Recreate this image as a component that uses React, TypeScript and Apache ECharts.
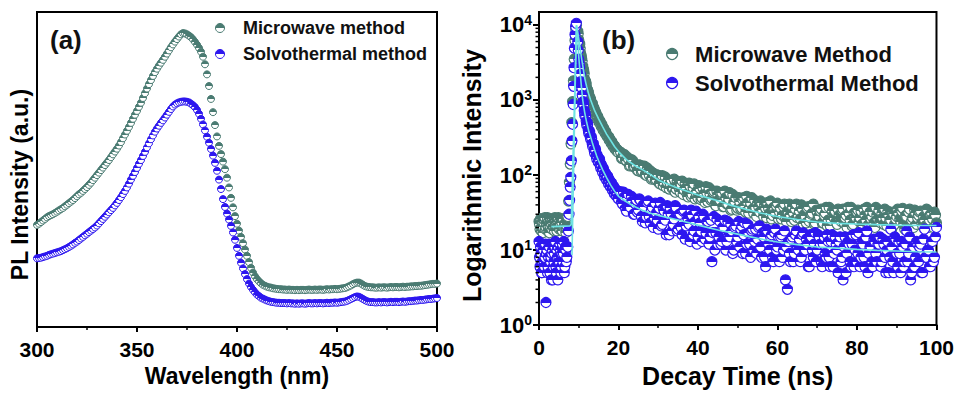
import React, { useEffect, useRef } from "react";
import * as echarts from "echarts";

// ---------- Panel (a): PL spectra (x: 300..500 nm, 1 nm step) ----------
const wlStart = 300;
const wlStep = 1;
const plMicrowave = [
  32.4, 32.8, 33.3, 33.8, 34.3, 34.8, 35.2, 35.5, 35.8, 36.2,
  36.6, 37.0, 37.4, 37.8, 38.3, 38.8, 39.3, 39.8, 40.3, 40.9,
  41.5, 42.1, 42.6, 43.2, 43.8, 44.4, 45.1, 45.8, 46.6, 47.4,
  48.2, 49.0, 49.8, 50.6, 51.4, 52.2, 53.0, 53.9, 54.8, 55.7,
  56.6, 57.6, 58.7, 59.9, 61.1, 62.3, 63.5, 64.8, 66.1, 67.4,
  68.6, 69.9, 71.2, 72.7, 74.2, 75.7, 77.1, 78.4, 79.7, 80.9,
  82.0, 83.0, 83.9, 84.8, 85.8, 86.8, 87.8, 88.8, 89.7, 90.6,
  91.4, 92.2, 92.9, 93.3, 93.2, 92.9, 92.5, 92.0, 91.3, 90.5,
  89.6, 88.6, 87.4, 85.8, 83.4, 80.2, 76.5, 72.4, 68.2, 64.1,
  60.5, 57.5, 54.9, 52.5, 50.1, 47.4, 44.3, 41.0, 38.0, 35.2,
  32.8, 30.6, 28.6, 26.6, 24.6, 22.6, 20.6, 18.8, 17.3, 16.1,
  15.2, 14.5, 13.9, 13.4, 13.1, 12.8, 12.6, 12.5, 12.3, 12.2,
  12.1, 12.0, 12.0, 11.9, 11.9, 11.8, 11.9, 11.8, 11.8, 11.7,
  11.8, 11.7, 11.8, 11.8, 11.7, 11.8, 11.9, 11.8, 11.8, 11.9,
  11.8, 11.9, 11.9, 11.8, 11.9, 12.0, 11.9, 12.0, 12.0, 12.1,
  12.0, 12.1, 12.2, 12.3, 12.4, 12.6, 12.9, 13.2, 13.6, 13.9,
  14.1, 14.1, 13.8, 13.4, 13.0, 12.8, 12.7, 12.6, 12.6, 12.5,
  12.5, 12.6, 12.5, 12.6, 12.6, 12.5, 12.6, 12.7, 12.6, 12.7,
  12.7, 12.6, 12.7, 12.8, 12.7, 12.8, 12.8, 12.9, 12.9, 13.0,
  13.0, 13.1, 13.1, 13.2, 13.3, 13.4, 13.5, 13.6, 13.7, 13.7,
  13.8,
];
const plSolvothermal = [
  21.8, 21.9, 22.0, 22.2, 22.4, 22.6, 22.9, 23.1, 23.3, 23.5,
  23.7, 23.9, 24.1, 24.4, 24.7, 25.0, 25.4, 25.8, 26.2, 26.7,
  27.1, 27.6, 28.1, 28.6, 29.1, 29.6, 30.1, 30.6, 31.1, 31.6,
  32.2, 32.9, 33.6, 34.3, 35.0, 35.7, 36.4, 37.1, 37.8, 38.6,
  39.4, 40.3, 41.2, 42.2, 43.2, 44.3, 45.5, 46.8, 48.0, 49.2,
  50.5, 51.8, 53.0, 54.3, 55.6, 57.0, 58.3, 59.6, 60.8, 62.0,
  63.0, 63.9, 64.8, 65.6, 66.5, 67.4, 68.3, 69.2, 70.0, 70.6,
  71.0, 71.3, 71.5, 71.6, 71.6, 71.5, 71.3, 70.9, 70.4, 69.8,
  68.9, 67.7, 66.1, 64.3, 62.4, 60.4, 58.5, 56.5, 54.4, 52.1,
  49.6, 46.8, 43.8, 40.6, 38.1, 36.0, 34.1, 32.1, 30.0, 27.7,
  25.1, 22.6, 20.4, 18.6, 16.8, 15.2, 13.8, 12.7, 11.8, 11.0,
  10.3, 9.8, 9.3, 9.0, 8.7, 8.4, 8.2, 8.0, 7.9, 7.8,
  7.7, 7.7, 7.6, 7.6, 7.6, 7.5, 7.6, 7.5, 7.5, 7.4,
  7.5, 7.4, 7.5, 7.5, 7.4, 7.5, 7.6, 7.5, 7.5, 7.6,
  7.5, 7.6, 7.6, 7.5, 7.6, 7.7, 7.6, 7.7, 7.7, 7.8,
  7.7, 7.8, 7.9, 8.0, 8.1, 8.3, 8.6, 8.9, 9.2, 9.5,
  9.7, 9.6, 9.3, 8.9, 8.5, 8.2, 8.0, 7.9, 7.9, 7.8,
  7.8, 7.9, 7.8, 7.9, 7.9, 7.8, 7.9, 8.0, 7.9, 8.0,
  8.0, 7.9, 8.0, 8.1, 8.0, 8.1, 8.2, 8.2, 8.3, 8.4,
  8.4, 8.5, 8.6, 8.6, 8.7, 8.8, 8.9, 8.9, 9.0, 9.1,
  9.2,
];

// ---------- Panel (b): decay curves ----------
// before the pulse: 0..7 ns (0.25 ns step) and 0.125..6.875 ns (interleaved)
const preStart = 0;
const preStart2 = 0.125;
const preStep = 0.25;
const mwPre = [24, 19, 26, 21, 17, 23, 27, 20, 22, 18, 25, 21, 26, 19, 23, 20, 27, 22, 18, 24, 21, 25, 19, 23, 26, 20, 22, 17, 21];
const mwPre2 = [22, 26, 18, 24, 20, 25, 19, 23, 27, 21, 17, 24, 22, 26, 20, 18, 25, 23, 21, 27, 19, 22, 24, 18, 26, 21, 23, 20];
const stPre = [13, 6, 9, 5, 11, 7, 8, 2, 10, 6, 12, 5, 8, 9, 4, 7, 11, 6, 10, 4, 8, 12, 5, 9, 7, 13, 6, 10, 8];
const stPre2 = [8, 11, 5, 7, 10, 6, 12, 9, 5, 8, 11, 7, 4, 10, 6, 9, 13, 5, 8, 11, 7, 10, 6, 12, 9, 5, 11, 7];
// rising edge
const mwRiseT = [7.25, 7.45, 7.65, 7.85, 8.05, 8.25, 8.45, 8.65, 8.85, 9.05, 9.25, 9.45];
const mwRiseV = [28, 45, 80, 140, 260, 500, 950, 1800, 3500, 6200, 8700, 10000];
const stRiseT = [7.25, 7.4, 7.55, 7.7, 7.85, 8.0, 8.15, 8.3, 8.45, 8.6, 8.7, 8.8, 8.9, 9.05, 9.2, 9.4];
const stRiseV = [11, 18, 30, 46, 69, 93, 155, 285, 475, 870, 1520, 2690, 4900, 7400, 9500, 10500];
// early decay: 9.75..20 ns and 9.875..19.875 ns, 0.25 ns step
const earlyStart = 9.75;
const earlyStart2 = 9.875;
const earlyStep = 0.25;
const mwEarly = [8200, 6300, 5500, 4200, 3600, 2800, 2500, 1900, 1750, 1450, 1350, 1230, 1080, 1010, 900, 860, 760, 730, 690, 610, 600, 540, 530, 490, 470, 430, 420, 385, 380, 340, 330, 325, 300, 285, 280, 255, 250, 245, 225, 220, 215, 200];
const mwEarly2 = [7600, 5700, 4900, 3800, 3300, 2550, 2250, 1750, 1620, 1360, 1310, 1100, 1060, 920, 900, 760, 780, 650, 670, 560, 590, 500, 515, 445, 465, 395, 410, 360, 365, 325, 325, 295, 300, 265, 270, 240, 245, 222, 226, 206, 210];
const stEarly = [6000, 3500, 2700, 1750, 1450, 900, 860, 620, 610, 460, 470, 360, 370, 300, 310, 240, 250, 195, 215, 165, 175, 150, 160, 125, 135, 108, 120, 95, 104, 86, 96, 76, 84, 70, 78, 62, 70, 56, 64, 52, 58, 48];
const stEarly2 = [4600, 3100, 2200, 1600, 1150, 950, 720, 660, 520, 500, 400, 390, 320, 325, 260, 265, 210, 225, 180, 185, 150, 165, 135, 140, 115, 125, 100, 108, 90, 98, 80, 88, 72, 80, 65, 72, 58, 66, 54, 60, 50];
// tail: 20.5..100 ns and 20.75..99.75 ns, 0.5 ns step
const tailStart = 20.5;
const tailStart2 = 20.75;
const tailStep = 0.5;
const mwTail = [
  202, 167, 187, 155, 165, 134, 157, 130, 135, 113,
  134, 112, 131, 99, 111, 114, 91, 102, 87, 99,
  76, 98, 79, 68, 86, 77, 66, 88, 65, 74,
  59, 83, 63, 68, 51, 71, 55, 76, 58, 49,
  66, 49, 56, 70, 44, 56, 48, 61, 39, 54,
  46, 58, 38, 50, 41, 58, 35, 43, 50, 36,
  44, 36, 50, 32, 43, 37, 50, 31, 37, 42,
  32, 42, 28, 36, 43, 31, 26, 37, 31, 42,
  32, 26, 38, 27, 33, 41, 24, 31, 35, 27,
  33, 40, 22, 28, 36, 24, 30, 41, 23, 32,
  28, 35, 23, 31, 21, 37, 25, 29, 33, 22,
  29, 24, 35, 27, 20, 31, 37, 22, 28, 32,
  24, 33, 21, 29, 37, 22, 26, 32, 20, 29,
  34, 23, 27, 35, 21, 29, 25, 32, 22, 28,
  31, 24, 36, 19, 28, 32, 21, 27, 34, 22,
  29, 33, 21, 25, 35, 20, 30, 26, 32, 23,
];
const mwTail2 = [
  167, 189, 157, 172, 132, 160, 129, 140, 115, 136,
  110, 130, 101, 124, 99, 88, 106, 86, 100, 77,
  93, 72, 94, 80, 65, 85, 67, 59, 83, 66,
  75, 55, 78, 56, 78, 52, 68, 48, 61, 72,
  47, 67, 43, 57, 68, 46, 59, 41, 61, 47,
  57, 38, 61, 41, 48, 34, 55, 44, 34, 50,
  35, 47, 39, 52, 31, 42, 35, 46, 28, 38,
  45, 34, 40, 27, 36, 45, 29, 36, 39, 26,
  36, 29, 41, 24, 32, 29, 38, 25, 41, 29,
  26, 35, 30, 23, 38, 27, 31, 22, 34, 28,
  33, 23, 29, 37, 25, 21, 33, 27, 24, 35,
  26, 34, 23, 29, 37, 25, 21, 31, 27, 34,
  27, 22, 35, 25, 21, 32, 28, 23, 37, 26,
  24, 31, 22, 27, 33, 25, 19, 30, 26, 35,
  26, 33, 22, 29, 21, 35, 25, 20, 31, 27,
  32, 23, 28, 21, 34, 25, 31, 20, 29,
];
const stTail = [
  60, 41, 51, 33, 55, 37, 45, 30, 46, 34,
  46, 24, 37, 28, 45, 23, 37, 27, 31, 19,
  43, 22, 33, 16, 30, 36, 18, 26, 37, 19,
  30, 16, 34, 21, 26, 13, 29, 18, 33, 15,
  23, 13, 28, 17, 24, 15, 7, 28, 17, 12,
  24, 13, 20, 10, 24, 15, 18, 10, 21, 15,
  11, 21, 16, 9, 22, 12, 18, 10, 19, 14,
  21, 8, 15, 6, 18, 10, 16, 7, 19, 11,
  7, 16, 10, 4, 3, 9, 14, 7, 16, 11,
  14, 8, 17, 10, 12, 6, 15, 8, 17, 10,
  15, 7, 12, 9, 16, 8, 13, 6, 15, 10,
  13, 7, 4, 15, 9, 12, 6, 16, 10, 7,
  17, 8, 12, 6, 18, 9, 11, 6, 13, 7,
  12, 6, 14, 8, 10, 5, 19, 7, 15, 9,
  13, 5, 11, 7, 18, 9, 4, 11, 6, 13,
  7, 12, 5, 19, 8, 10, 6, 13, 8, 20,
];
const stTail2 = [
  44, 59, 36, 49, 40, 52, 30, 41, 32, 48,
  28, 40, 23, 43, 28, 34, 20, 42, 25, 36,
  21, 36, 25, 39, 16, 30, 22, 39, 18, 30,
  20, 33, 14, 28, 22, 34, 16, 24, 12, 28,
  18, 30, 14, 24, 12, 25, 17, 10, 26, 15,
  12, 20, 25, 13, 16, 22, 9, 20, 13, 24,
  19, 9, 23, 12, 17, 8, 19, 13, 9, 20,
  11, 17, 8, 19, 12, 15, 8, 17, 10, 15,
  15, 8, 18, 11, 13, 7, 15, 9, 18, 10,
  7, 16, 10, 14, 6, 16, 10, 12, 7, 16,
  12, 6, 15, 8, 13, 6, 16, 9, 12, 5,
  15, 8, 11, 5, 13, 7, 12, 6, 16, 9,
  6, 13, 8, 15, 5, 11, 7, 14, 9, 12,
  15, 7, 12, 5, 13, 8, 11, 5, 14, 6,
  9, 13, 6, 12, 7, 15, 5, 11, 8, 12,
  11, 5, 14, 8, 10, 6, 13, 7, 15,
];
// fitted curves
const mwFitT = [3.1, 5, 7.8, 8.1, 9.45, 9.75, 10, 10.25, 10.5, 10.75, 11, 11.5, 12, 12.5, 13, 14, 15, 16, 17, 18, 19, 20, 22, 24, 26, 28, 30, 32, 34, 36, 38, 40, 44, 48, 52, 56, 60, 65, 70, 75, 80, 85, 90, 95, 100];
const mwFitV = [20.5, 20.7, 21, 22, 9900, 8000, 6500, 5300, 4300, 3500, 2900, 1960, 1500, 1200, 1000, 720, 560, 440, 350, 290, 240, 205, 160, 135, 118, 102, 86, 77, 70, 64, 59, 54, 47, 40, 35, 31, 28, 25.5, 23.6, 22.7, 22.2, 21.8, 21.5, 21.3, 21.2];
const stFitT = [8.3, 9.4, 9.75, 10, 10.25, 10.5, 10.75, 11, 11.25, 11.5, 11.75, 12, 12.5, 13, 13.5, 14, 14.5, 15, 16, 17, 18, 19, 20, 22, 24, 26, 28, 30, 35, 40, 45, 50, 55, 60, 65, 70, 75, 80, 85, 90, 95, 100];
const stFitV = [8.5, 9800, 6500, 3800, 2600, 1900, 1350, 1000, 820, 680, 580, 500, 390, 320, 260, 215, 180, 155, 118, 92, 74, 61, 52, 44, 38, 34, 31, 29, 25.2, 21.5, 18.5, 16.3, 14.3, 12.8, 11.8, 11, 10.6, 10.2, 9.9, 9.7, 9.5, 9.4];

// axis ticks
const logTickValues = [1, 10, 100, 1000, 10000];
const logMinorMultipliers = [2, 3, 4, 5, 6, 7, 8, 9];
const logMinorDecades = [1, 10, 100, 1000];

const FONT = '"Liberation Sans", Arial, Helvetica, sans-serif';
const TEAL = "#4a7b72";
const BLUE = "#2d17ef";
const FIT = "#6ee3e3";

const onGrid = (start: number, step: number, vals: number[]) =>
  vals.map((v, i) => [+(start + i * step).toFixed(3), v]);
const zip = (ts: number[], vs: number[]) => vs.map((v, i) => [ts[i], v]);

const halfFill = (c: string) =>
  new echarts.graphic.LinearGradient(0, 0, 0, 1, [
    { offset: 0, color: c },
    { offset: 0.5, color: c },
    { offset: 0.5, color: "#ffffff" },
    { offset: 1, color: "#ffffff" },
  ]);

export default function App() {
  const ref = useRef<HTMLDivElement>(null);
  useEffect(() => {
    if (!ref.current) return;
    const chart = echarts.init(ref.current, undefined, { renderer: "svg" });

    const byTime = (a: number[], b: number[]) => a[0] - b[0];
    const mwDecay = [
      ...onGrid(preStart, preStep, mwPre),
      ...onGrid(preStart2, preStep, mwPre2),
      ...zip(mwRiseT, mwRiseV),
      ...onGrid(earlyStart, earlyStep, mwEarly),
      ...onGrid(earlyStart2, earlyStep, mwEarly2),
      ...onGrid(tailStart, tailStep, mwTail),
      ...onGrid(tailStart2, tailStep, mwTail2),
    ].sort(byTime);
    const stDecay = [
      ...onGrid(preStart, preStep, stPre),
      ...onGrid(preStart2, preStep, stPre2),
      ...zip(stRiseT, stRiseV),
      ...onGrid(earlyStart, earlyStep, stEarly),
      ...onGrid(earlyStart2, earlyStep, stEarly2),
      ...onGrid(tailStart, tailStep, stTail),
      ...onGrid(tailStart2, tailStep, stTail2),
    ].sort(byTime);
    const minorTicks: number[][] = [];
    logMinorDecades.forEach((d) => logMinorMultipliers.forEach((m) => minorTicks.push([0, m * d])));

    const axisLineStyle = { lineStyle: { color: "#000", width: 2 } };
    const tickLabel = { color: "#000", fontFamily: FONT, fontWeight: "bold" as const, fontSize: 21 };

    chart.setOption({
      animation: false,
      backgroundColor: "#fff",
      grid: [
        { left: 37, top: 12, width: 400, height: 315, show: true, borderColor: "#000", borderWidth: 2, backgroundColor: "transparent" },
        { left: 539, top: 12, width: 398, height: 315, show: true, borderColor: "#000", borderWidth: 2, backgroundColor: "transparent" },
      ],
      xAxis: [
        {
          gridIndex: 0, type: "value", min: 300, max: 500, interval: 50,
          axisLine: axisLineStyle,
          axisTick: { show: true, inside: false, length: 5, lineStyle: { width: 2, color: "#000" } },
          minorTick: { show: true, splitNumber: 2, length: 3, lineStyle: { width: 1.5, color: "#000" } },
          splitLine: { show: false },
          axisLabel: { ...tickLabel, margin: 12 },
          name: "Wavelength (nm)", nameLocation: "middle", nameGap: 37,
          nameTextStyle: { color: "#000", fontFamily: FONT, fontWeight: "bold", fontSize: 23 },
        },
        {
          gridIndex: 1, type: "value", min: 0, max: 100, interval: 20,
          axisLine: axisLineStyle,
          axisTick: { show: true, inside: false, length: 5, lineStyle: { width: 2, color: "#000" } },
          minorTick: { show: true, splitNumber: 2, length: 3, lineStyle: { width: 1.5, color: "#000" } },
          splitLine: { show: false },
          axisLabel: { ...tickLabel, margin: 12 },
          name: "Decay Time (ns)", nameLocation: "middle", nameGap: 36,
          nameTextStyle: { color: "#000", fontFamily: FONT, fontWeight: "bold", fontSize: 25 },
        },
      ],
      yAxis: [
        {
          gridIndex: 0, type: "value", min: 0, max: 100,
          axisLine: axisLineStyle, axisTick: { show: false }, axisLabel: { show: false }, splitLine: { show: false },
          name: "PL Intensity (a.u.)", nameLocation: "middle", nameGap: 6,
          nameTextStyle: { color: "#000", fontFamily: FONT, fontWeight: "bold", fontSize: 23, padding: [0, 30, 0, 0] },
        },
        {
          gridIndex: 1, type: "log", logBase: 10, min: 1, max: 14860,
          axisLine: axisLineStyle,
          axisTick: { show: true, inside: false, length: 6, lineStyle: { width: 2, color: "#000" }, customValues: logTickValues },
          splitLine: { show: false },
          axisLabel: {
            customValues: logTickValues,
            margin: 7,
            formatter: (v: number) => `{b|10}{s|${Math.round(Math.log10(v))}}`,
            rich: {
              b: { fontFamily: FONT, fontWeight: "bold", fontSize: 22, color: "#000", lineHeight: 24 },
              s: { fontFamily: FONT, fontWeight: "bold", fontSize: 14, color: "#000", verticalAlign: "top", lineHeight: 14 },
            },
          },
          name: "Logarithmic Intensity", nameLocation: "middle", nameGap: 55,
          nameTextStyle: { color: "#000", fontFamily: FONT, fontWeight: "bold", fontSize: 25, padding: [0, 14, 0, 0] },
        },
      ],
      legend: [
        {
          orient: "vertical", left: 215, top: 18, padding: 0, itemGap: 6, itemWidth: 36, itemHeight: 9,
          icon: "circle", selectedMode: false,
          textStyle: { fontFamily: FONT, fontWeight: "bold", fontSize: 18, color: "#111", lineHeight: 20 },
          data: [
            { name: "Microwave method", itemStyle: { color: halfFill(TEAL), borderColor: TEAL, borderWidth: 1 } },
            { name: "Solvothermal method", itemStyle: { color: halfFill(BLUE), borderColor: BLUE, borderWidth: 1 } },
          ],
        },
        {
          orient: "vertical", left: 666, top: 42, padding: 0, itemGap: 5, itemWidth: 36, itemHeight: 11,
          icon: "circle", selectedMode: false,
          textStyle: { fontFamily: FONT, fontWeight: "bold", fontSize: 22, color: "#111", lineHeight: 24 },
          data: [
            { name: "Microwave Method", itemStyle: { color: halfFill(TEAL), borderColor: TEAL, borderWidth: 1.2 } },
            { name: "Solvothermal Method", itemStyle: { color: halfFill(BLUE), borderColor: BLUE, borderWidth: 1.2 } },
          ],
        },
      ],
      graphic: [
        { type: "text", left: 50, top: 27, style: { text: "(a)", fontFamily: FONT, fontWeight: "bold", fontSize: 26, fill: "#111" } },
        { type: "text", left: 602, top: 27, style: { text: "(b)", fontFamily: FONT, fontWeight: "bold", fontSize: 26, fill: "#111" } },
      ],
      series: [
        {
          name: "Microwave method", type: "scatter", xAxisIndex: 0, yAxisIndex: 0,
          symbol: "circle", symbolSize: 7,
          itemStyle: { color: halfFill(TEAL), borderColor: TEAL, borderWidth: 1, opacity: 1 },
          data: onGrid(wlStart, wlStep, plMicrowave),
        },
        {
          name: "Solvothermal method", type: "scatter", xAxisIndex: 0, yAxisIndex: 0,
          symbol: "circle", symbolSize: 7,
          itemStyle: { color: halfFill(BLUE), borderColor: BLUE, borderWidth: 1, opacity: 1 },
          data: onGrid(wlStart, wlStep, plSolvothermal),
        },
        {
          name: "Microwave Method", type: "scatter", xAxisIndex: 1, yAxisIndex: 1,
          symbol: "circle", symbolSize: 10, large: false,
          itemStyle: { color: halfFill(TEAL), borderColor: TEAL, borderWidth: 1.2, opacity: 1 },
          data: mwDecay,
        },
        {
          name: "Solvothermal Method", type: "scatter", xAxisIndex: 1, yAxisIndex: 1,
          symbol: "circle", symbolSize: 10, large: false,
          itemStyle: { color: halfFill(BLUE), borderColor: BLUE, borderWidth: 1.2, opacity: 1 },
          data: stDecay,
        },
        {
          name: "Microwave fit", type: "line", xAxisIndex: 1, yAxisIndex: 1,
          showSymbol: false, symbol: "none", lineStyle: { color: FIT, width: 1.6 },
          data: zip(mwFitT, mwFitV), z: 5,
        },
        {
          name: "Solvothermal fit", type: "line", xAxisIndex: 1, yAxisIndex: 1,
          showSymbol: false, symbol: "none", lineStyle: { color: FIT, width: 1.6 },
          data: zip(stFitT, stFitV), z: 5,
        },
        {
          name: "log minor ticks", type: "custom", xAxisIndex: 1, yAxisIndex: 1,
          silent: true, clip: false, z: 6,
          encode: { x: 0, y: 1 },
          data: minorTicks,
          renderItem: (_p: any, api: any) => {
            const pt = api.coord([0, api.value(1)]);
            return {
              type: "line",
              shape: { x1: pt[0] - 3.5, y1: pt[1], x2: pt[0], y2: pt[1] },
              style: { stroke: "#000", lineWidth: 1.5 },
            };
          },
        },
      ],
    });
    return () => chart.dispose();
  }, []);
  return <div ref={ref} style={{ position: "fixed", left: 0, top: 0, width: 957, height: 393 }} />;
}
